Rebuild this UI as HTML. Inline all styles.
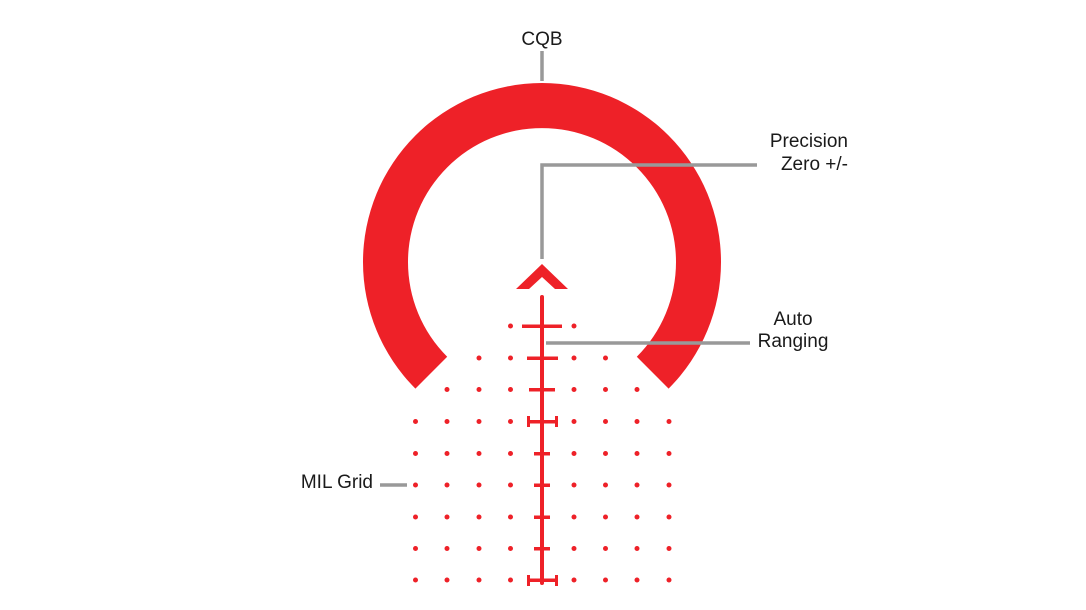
<!DOCTYPE html>
<html><head><meta charset="utf-8"><style>
html,body{margin:0;padding:0;background:#fff;}
svg{display:block}
text{font-family:"Liberation Sans",sans-serif;font-size:19px;fill:#1a1a1a}
</style></head><body>
<svg width="1086" height="610" viewBox="0 0 1086 610" xmlns="http://www.w3.org/2000/svg">
<defs>
<g id="r"><circle cx="415.5" cy="0" r="2.5"/><circle cx="447" cy="0" r="2.5"/><circle cx="479" cy="0" r="2.5"/><circle cx="510.5" cy="0" r="2.5"/><circle cx="574" cy="0" r="2.5"/><circle cx="605.5" cy="0" r="2.5"/><circle cx="637" cy="0" r="2.5"/><circle cx="669" cy="0" r="2.5"/></g>
</defs>
<g fill="#ee2128">
<path d="M415.4 388.6 A179 179 0 1 1 668.6 388.6 L636.8 356.8 A134 134 0 1 0 447.2 356.8 Z"/>
<polygon points="542,264 568,289 555,289 542,277 529,289 516,289"/>
<rect x="540" y="295" width="4" height="290" rx="2"/>
<rect x="522" y="324.5" width="40" height="3.5"/>
<rect x="527" y="356.5" width="31" height="3.5"/>
<rect x="529" y="388" width="26" height="3.5"/>
<rect x="527" y="420" width="31" height="3.5"/>
<rect x="527" y="416" width="3" height="11"/><rect x="555" y="416" width="3" height="11"/>
<rect x="534" y="452" width="16" height="3.5"/>
<rect x="534" y="483.5" width="16" height="3.5"/>
<rect x="534" y="515.5" width="16" height="3.5"/>
<rect x="534" y="547" width="16" height="3.5"/>
<rect x="527" y="578.5" width="31" height="3.5"/>
<rect x="527" y="575" width="3" height="11"/><rect x="555" y="575" width="3" height="11"/>
<circle cx="510.5" cy="326" r="2.5"/><circle cx="574" cy="326" r="2.5"/>
<circle cx="479" cy="358" r="2.5"/><circle cx="510.5" cy="358" r="2.5"/><circle cx="574" cy="358" r="2.5"/><circle cx="605.5" cy="358" r="2.5"/>
<circle cx="447" cy="389.5" r="2.5"/><circle cx="479" cy="389.5" r="2.5"/><circle cx="510.5" cy="389.5" r="2.5"/><circle cx="574" cy="389.5" r="2.5"/><circle cx="605.5" cy="389.5" r="2.5"/><circle cx="637" cy="389.5" r="2.5"/>
<use href="#r" y="421.5"/><use href="#r" y="453.5"/><use href="#r" y="485"/><use href="#r" y="517"/><use href="#r" y="548.5"/><use href="#r" y="580"/>
</g>
<g stroke="#999" stroke-width="3.5" fill="none">
<line x1="542" y1="51" x2="542" y2="81"/>
<polyline points="542,259 542,165 757,165"/>
<line x1="546" y1="343" x2="750" y2="343"/>
<line x1="380" y1="485" x2="407" y2="485"/>
</g>
<text x="542" y="45" text-anchor="middle">CQB</text>
<text x="848" y="147" text-anchor="end">Precision</text>
<text x="848" y="170" text-anchor="end">Zero +/-</text>
<text x="793" y="325" text-anchor="middle">Auto</text>
<text x="793" y="347" text-anchor="middle">Ranging</text>
<text x="373" y="488" text-anchor="end">MIL Grid</text>
</svg>
</body></html>
